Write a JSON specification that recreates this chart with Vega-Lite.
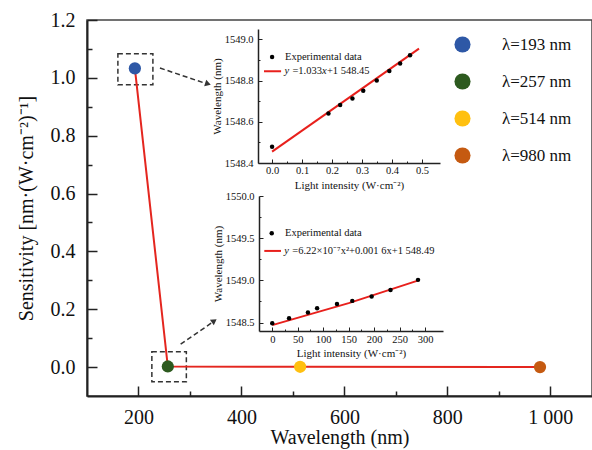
{
  "$schema": "https://vega.github.io/schema/vega-lite/v6.json",
  "autosize": "none",
  "padding": {"left": 87, "top": 20, "right": 0, "bottom": 54},
  "width": 505,
  "height": 376,
  "background": "white",
  "config": {
    "font": "Liberation Serif",
    "view": {"stroke": "#444", "strokeWidth": 1.5},
    "axis": {"zindex": 1, "grid": false, "domainColor": "#222", "tickColor": "#222", "labelColor": "#111", "titleColor": "#111", "labelFont": "Liberation Serif", "titleFont": "Liberation Serif", "titleFontWeight": "normal"}
  },
  "resolve": {"scale": {"x": "independent", "y": "independent"}, "axis": {"x": "independent", "y": "independent"}},
  "layer": [
    {
      "encoding": {
        "x": {"field": "x", "type": "quantitative", "scale": {"domain": [100, 1081], "nice": false, "zero": false},
          "axis": {"orient": "bottom", "values": [200, 300, 400, 500, 600, 700, 800, 900, 1000],
            "labelExpr": "datum.value % 200 == 0 ? (datum.value == 1000 ? '1 000' : format(datum.value, 'd')) : ''",
            "tickSize": {"condition": {"test": "datum.value % 200 == 0", "value": -10}, "value": -5},
            "labelPadding": 21, "labelFontSize": 20, "title": "Wavelength (nm)", "titleFontSize": 20, "titlePadding": 0, "domainWidth": 2, "tickWidth": 1.5}},
        "y": {"field": "y", "type": "quantitative", "scale": {"domain": [-0.1, 1.2], "nice": false, "zero": false},
          "axis": {"orient": "left", "values": [0, 0.1, 0.2, 0.3, 0.4, 0.5, 0.6, 0.7, 0.8, 0.9, 1.0, 1.1, 1.2], "format": ".1f",
            "labelExpr": "round(datum.value*10) % 2 == 0 ? datum.label : ''",
            "tickSize": {"condition": {"test": "round(datum.value*10) % 2 == 0", "value": -10}, "value": -5},
            "labelPadding": 22, "labelFontSize": 20, "title": "Sensitivity [nm·(W·cm⁻²)⁻¹]", "titleFontSize": 20, "titlePadding": 14, "domainWidth": 2, "tickWidth": 1.5}}
      },
      "layer": [
        {
          "data": {"values": [{"x": 160, "x2": 228, "y": 0.976, "y2": 1.083}, {"x": 226, "x2": 293, "y": -0.051, "y2": 0.053}]},
          "mark": {"type": "rect", "fill": null, "stroke": "#333", "strokeWidth": 1.5, "strokeDash": [5, 3]},
          "encoding": {"x2": {"field": "x2"}, "y2": {"field": "y2"}}
        },
        {
          "data": {"values": [{"x": 241.7, "y": 1.034, "x2": 330, "y2": 0.981}, {"x": 281.9, "y": 0.079, "x2": 343, "y2": 0.154}]},
          "mark": {"type": "rule", "stroke": "#333", "strokeWidth": 1.5, "strokeDash": [5, 3]},
          "encoding": {"x2": {"field": "x2"}, "y2": {"field": "y2"}}
        },
        {
          "data": {"values": [{"x": 335, "y": 0.979}]},
          "mark": {"type": "point", "shape": "triangle-right", "filled": true, "color": "#333", "size": 45, "angle": 18, "opacity": 1},
          "encoding": {}
        },
        {
          "data": {"values": [{"x": 347.2, "y": 0.16}]},
          "mark": {"type": "point", "shape": "triangle-right", "filled": true, "color": "#333", "size": 45, "angle": 325, "opacity": 1},
          "encoding": {}
        },
        {
          "data": {"name": "main"},
          "mark": {"type": "line", "color": "#E4261F", "strokeWidth": 2},
          "encoding": {}
        },
        {
          "data": {"name": "main"},
          "mark": {"type": "circle", "size": 150, "opacity": 1},
          "encoding": {
            "color": {"field": "label", "type": "nominal",
              "scale": {"domain": ["λ=193 nm", "λ=257 nm", "λ=514 nm", "λ=980 nm"], "range": ["#2E58A6", "#2D5A1F", "#FFC010", "#C55A11"]},
              "legend": {"orient": "none", "legendX": 367, "legendY": 16, "title": null, "symbolType": "circle", "symbolSize": 260, "symbolStrokeWidth": 0, "labelFontSize": 17, "labelFont": "Liberation Serif", "labelColor": "#111", "labelOffset": 31, "rowPadding": 19, "padding": 0}}
          }
        }
      ]
    },
    {
      "encoding": {
        "x": {"field": "x", "type": "quantitative", "scale": {"domain": [-0.047, 0.56], "range": [171, 353], "nice": false, "zero": false},
          "axis": {"orient": "bottom", "offset": -233, "values": [0, 0.05, 0.1, 0.15, 0.2, 0.25, 0.3, 0.35, 0.4, 0.45, 0.5], "format": ".1f",
            "labelExpr": "round(datum.value*20) % 2 == 0 ? datum.label : ''",
            "tickSize": {"condition": {"test": "round(datum.value*20) % 2 == 0", "value": -4}, "value": -2},
            "labelPadding": 6, "labelFontSize": 10.5, "title": "Light intensity (W·cm⁻²)", "titleFontSize": 11, "titlePadding": 4, "domainWidth": 1.5, "tickWidth": 1}},
        "y": {"field": "y", "type": "quantitative", "scale": {"domain": [1548.4, 1549.05], "range": [143, 9], "nice": false, "zero": false},
          "axis": {"orient": "left", "offset": -171, "values": [1548.4, 1548.5, 1548.6, 1548.7, 1548.8, 1548.9, 1549.0], "format": ".1f",
            "labelExpr": "round(datum.value*10) % 2 == 0 ? datum.label : ''",
            "tickSize": {"condition": {"test": "round(datum.value*10) % 2 == 0", "value": -4}, "value": -2},
            "labelPadding": 9, "labelFontSize": 10.5, "title": "Wavelength (nm)", "titleFontSize": 11, "titlePadding": 2, "domainWidth": 1.5, "tickWidth": 1}}
      },
      "layer": [
        {
          "data": {"values": [{}]},
          "mark": {"type": "rect", "fill": "white", "stroke": "#222", "strokeWidth": 1.5},
          "encoding": {"x": {"datum": -0.047, "type": "quantitative"}, "x2": {"datum": 0.56}, "y": {"datum": 1548.4, "type": "quantitative"}, "y2": {"datum": 1549.05}}
        },
        {
          "data": {"values": [{"x": 0.0, "y": 1548.455}, {"x": 0.49, "y": 1548.955}]},
          "mark": {"type": "line", "color": "#E8201C", "strokeWidth": 2},
          "encoding": {}
        },
        {
          "data": {"values": [{"x": 0.0, "y": 1548.479}, {"x": 0.188, "y": 1548.64}, {"x": 0.227, "y": 1548.681}, {"x": 0.268, "y": 1548.713}, {"x": 0.304, "y": 1548.75}, {"x": 0.349, "y": 1548.8}, {"x": 0.391, "y": 1548.846}, {"x": 0.427, "y": 1548.883}, {"x": 0.46, "y": 1548.923}]},
          "mark": {"type": "circle", "color": "#000", "size": 20, "opacity": 1},
          "encoding": {}
        },
        {
          "data": {"values": [{"x": 0.0, "y": 1548.914}]},
          "mark": {"type": "circle", "color": "#000", "size": 20, "opacity": 1},
          "encoding": {}
        },
        {
          "data": {"values": [{"x": -0.027, "x2": 0.03, "y": 1548.845}]},
          "mark": {"type": "rule", "color": "#E8201C", "strokeWidth": 2},
          "encoding": {"x2": {"field": "x2"}}
        },
        {
          "data": {"values": [{"x": 0.043, "y": 1548.914, "t": "Experimental data"}]},
          "mark": {"type": "text", "align": "left", "baseline": "middle", "fontSize": 10.5, "color": "#111"},
          "encoding": {"text": {"field": "t"}}
        },
        {
          "data": {"values": [{"x": 0.041, "y": 1548.845, "t": "y"}]},
          "mark": {"type": "text", "align": "left", "baseline": "middle", "fontSize": 10.5, "fontStyle": "italic", "color": "#111"},
          "encoding": {"text": {"field": "t"}}
        },
        {
          "data": {"values": [{"x": 0.041, "y": 1548.845, "t": "=1.033"}]},
          "mark": {"type": "text", "align": "left", "baseline": "middle", "fontSize": 10.5, "color": "#111", "dx": 8},
          "encoding": {"text": {"field": "t"}}
        },
        {
          "data": {"values": [{"x": 0.041, "y": 1548.845, "t": "x"}]},
          "mark": {"type": "text", "align": "left", "baseline": "middle", "fontSize": 10.5, "fontStyle": "italic", "color": "#111", "dx": 37.5},
          "encoding": {"text": {"field": "t"}}
        },
        {
          "data": {"values": [{"x": 0.041, "y": 1548.845, "t": "+1 548.45"}]},
          "mark": {"type": "text", "align": "left", "baseline": "middle", "fontSize": 10.5, "color": "#111", "dx": 42.5},
          "encoding": {"text": {"field": "t"}}
        }
      ]
    },
    {
      "encoding": {
        "x": {"field": "x", "type": "quantitative", "scale": {"domain": [-26, 335], "range": [172, 356], "nice": false, "zero": false},
          "axis": {"orient": "bottom", "offset": -65, "values": [0, 25, 50, 75, 100, 125, 150, 175, 200, 225, 250, 275, 300],
            "labelExpr": "round(datum.value/25) % 2 == 0 ? datum.label : ''",
            "tickSize": {"condition": {"test": "round(datum.value/25) % 2 == 0", "value": -4}, "value": -2},
            "labelPadding": 7, "labelFontSize": 10.5, "title": "Light intensity (W·cm⁻²)", "titleFontSize": 11, "titlePadding": 3, "domainWidth": 1.5, "tickWidth": 1}},
        "y": {"field": "y", "type": "quantitative", "scale": {"domain": [1548.4, 1550.0], "range": [311, 176], "nice": false, "zero": false},
          "axis": {"orient": "left", "offset": -172, "values": [1548.5, 1548.75, 1549.0, 1549.25, 1549.5, 1549.75, 1550.0], "format": ".1f",
            "labelExpr": "round(datum.value*4) % 2 == 0 ? datum.label : ''",
            "tickSize": {"condition": {"test": "round(datum.value*4) % 2 == 0", "value": -4}, "value": -2},
            "labelPadding": 9, "labelFontSize": 10.5, "title": "Wavelength (nm)", "titleFontSize": 11, "titlePadding": 2, "domainWidth": 1.5, "tickWidth": 1}}
      },
      "layer": [
        {
          "data": {"values": [{}]},
          "mark": {"type": "rect", "fill": "white", "stroke": "#222", "strokeWidth": 1.5},
          "encoding": {"x": {"datum": -26, "type": "quantitative"}, "x2": {"datum": 335}, "y": {"datum": 1548.4, "type": "quantitative"}, "y2": {"datum": 1550.0}}
        },
        {
          "data": {"values": [{"x": 0, "y": 1548.47}, {"x": 150, "y": 1548.73}, {"x": 287, "y": 1549.0}]},
          "mark": {"type": "line", "color": "#E8201C", "strokeWidth": 2},
          "encoding": {}
        },
        {
          "data": {"values": [{"x": 0, "y": 1548.493}, {"x": 33, "y": 1548.552}, {"x": 70, "y": 1548.618}, {"x": 88, "y": 1548.67}, {"x": 127, "y": 1548.721}, {"x": 157, "y": 1548.757}, {"x": 195, "y": 1548.808}, {"x": 232, "y": 1548.887}, {"x": 286, "y": 1549.006}]},
          "mark": {"type": "circle", "color": "#000", "size": 20, "opacity": 1},
          "encoding": {}
        },
        {
          "data": {"values": [{"x": -1, "y": 1549.558}]},
          "mark": {"type": "circle", "color": "#000", "size": 20, "opacity": 1},
          "encoding": {}
        },
        {
          "data": {"values": [{"x": -15.6, "x2": 17.2, "y": 1549.349}]},
          "mark": {"type": "rule", "color": "#E8201C", "strokeWidth": 2},
          "encoding": {"x2": {"field": "x2"}}
        },
        {
          "data": {"values": [{"x": 25, "y": 1549.558, "t": "Experimental data"}]},
          "mark": {"type": "text", "align": "left", "baseline": "middle", "fontSize": 10.5, "color": "#111"},
          "encoding": {"text": {"field": "t"}}
        },
        {
          "data": {"values": [{"x": 23.6, "y": 1549.349, "t": "y"}]},
          "mark": {"type": "text", "align": "left", "baseline": "middle", "fontSize": 10.5, "fontStyle": "italic", "color": "#111"},
          "encoding": {"text": {"field": "t"}}
        },
        {
          "data": {"values": [{"x": 23.6, "y": 1549.349, "t": "=6.22×10⁻⁷x²+0.001 6x+1 548.49"}]},
          "mark": {"type": "text", "align": "left", "baseline": "middle", "fontSize": 10.5, "color": "#111", "dx": 8},
          "encoding": {"text": {"field": "t"}}
        }
      ]
    }
  ],
  "datasets": {
    "main": [
      {"x": 193, "y": 1.033, "label": "λ=193 nm"},
      {"x": 257, "y": 0.002, "label": "λ=257 nm"},
      {"x": 514, "y": 0.001, "label": "λ=514 nm"},
      {"x": 980, "y": 0.0, "label": "λ=980 nm"}
    ]
  }
}
